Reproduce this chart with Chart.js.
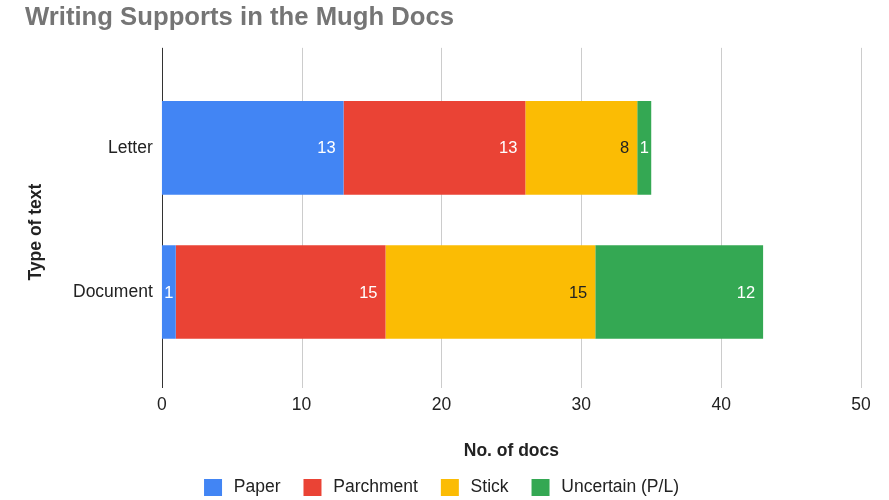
<!DOCTYPE html>
<html><head><meta charset="utf-8">
<script src="https://cdn.jsdelivr.net/npm/chart.js@4.4.0/dist/chart.umd.min.js"></script>
<style>html,body{margin:0;padding:0;background:#fff;}#wrap{width:889px;height:500px;}</style>
</head><body><div id="wrap"><canvas id="c" width="889" height="500"></canvas></div>
<script>
const categories = ['Letter', 'Document'];
const seriesNames = ['Paper', 'Parchment', 'Stick', 'Uncertain (P/L)'];
const paper = [13, 1];
const parchment = [13, 15];
const stick = [8, 15];
const uncertain = [1, 12];
const xTicks = [0, 10, 20, 30, 40, 50];

const colors = ['#4285F4', '#EA4335', '#FBBC04', '#34A853'];
const labelColors = ['#ffffff', '#ffffff', '#222222', '#ffffff'];
const FONT = "'Liberation Sans', Arial, sans-serif";
Chart.defaults.font.family = FONT;
Chart.defaults.color = '#222';

const gridPlugin = {
  id: 'extGrid',
  afterLayout(chart) {
    if (chart.legend) chart.legend.right -= 6;
  },
  beforeDatasetsDraw(chart) {
    const {ctx, chartArea, scales: {x}} = chart;
    ctx.save();
    ctx.lineWidth = 1;
    x.ticks.forEach(t => {
      const px = Math.round(x.getPixelForValue(t.value)) + 0.5;
      ctx.strokeStyle = t.value === 0 ? '#333333' : '#cccccc';
      ctx.beginPath();
      ctx.moveTo(px, chartArea.top - 28);
      ctx.lineTo(px, chartArea.bottom + 24);
      ctx.stroke();
    });
    ctx.restore();
  }
};

const labelPlugin = {
  id: 'barLabels',
  afterDatasetsDraw(chart) {
    const ctx = chart.ctx;
    ctx.save();
    ctx.font = '16.5px ' + FONT;
    ctx.textBaseline = 'middle';
    chart.data.datasets.forEach((ds, di) => {
      const meta = chart.getDatasetMeta(di);
      meta.data.forEach((bar, i) => {
        const txt = String(ds.data[i]);
        const w = ctx.measureText(txt).width;
        const left = Math.min(bar.base, bar.x), right = Math.max(bar.base, bar.x);
        ctx.fillStyle = labelColors[di];
        let tx;
        if (right - left >= w + 16) { ctx.textAlign = 'right'; tx = right - 8; }
        else { ctx.textAlign = 'center'; tx = (left + right) / 2; }
        ctx.fillText(txt, tx, bar.y + 1);
      });
    });
    ctx.restore();
  }
};

const seriesData = [paper, parchment, stick, uncertain];
new Chart(document.getElementById('c'), {
  type: 'bar',
  data: {
    labels: categories,
    datasets: seriesNames.map((n, i) => ({
      label: n,
      data: seriesData[i],
      backgroundColor: colors[i],
      borderWidth: 0,
      barPercentage: 0.65,
      categoryPercentage: 1
    }))
  },
  options: {
    responsive: false,
    animation: false,
    indexAxis: 'y',
    layout: { padding: { left: 25, right: 28, top: 0, bottom: -9 } },
    scales: {
      x: {
        stacked: true,
        min: 0, max: 50,
        afterBuildTicks: s => { s.ticks = xTicks.map(v => ({ value: v })); },
        grid: { display: false, drawTicks: true, tickLength: 31 },
        border: { display: false },
        ticks: { padding: 0, font: { size: 17.5 }, color: '#222' },
        title: { display: true, text: 'No. of docs', font: { size: 17.5, weight: 'bold' }, color: '#222', padding: { top: 24.5, bottom: -5.5 } }
      },
      y: {
        stacked: true,
        grid: { display: false, drawTicks: false },
        border: { display: false },
        ticks: { padding: 9, font: { size: 17.5 }, color: '#222' },
        title: { display: true, text: 'Type of text     ', font: { size: 17.5, weight: 'bold' }, color: '#222', padding: { top: 0.5, bottom: 17.5 } }
      }
    },
    plugins: {
      title: {
        display: true, text: 'Writing Supports in the Mugh Docs', align: 'start',
        color: '#757575', font: { size: 25.7, weight: 'bold' }, padding: { top: 2, bottom: 43 }
      },
      legend: {
        position: 'bottom',
        labels: {
          boxWidth: 24, boxHeight: 23, padding: 20, color: '#222', font: { size: 17.5 },
          generateLabels(chart) {
            const items = Chart.defaults.plugins.legend.labels.generateLabels(chart);
            items.forEach(it => { it.strokeStyle = '#ffffff'; it.lineWidth = 6; });
            return items;
          }
        }
      },
      tooltip: { enabled: false }
    }
  },
  plugins: [gridPlugin, labelPlugin]
});
</script></body></html>
